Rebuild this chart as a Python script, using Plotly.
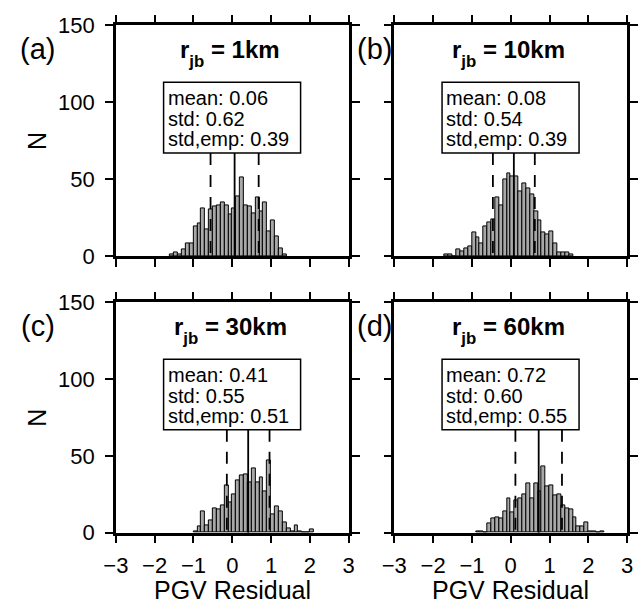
import plotly.graph_objects as go

FONT = "Liberation Sans, Arial, Helvetica, sans-serif"

# ---------------- data ----------------
panel_labels = ["(a)", "(b)", "(c)", "(d)"]
distances = ["1km", "10km", "30km", "60km"]
means = [0.06, 0.08, 0.41, 0.72]
stds = [0.62, 0.54, 0.55, 0.60]
std_emp = [0.39, 0.39, 0.51, 0.55]

bin_width = 0.1
first_centers = [-1.55, -1.65, -0.95, -0.85]

counts_a = [1, 2, 1, 4, 8, 8, 19, 21, 31, 17, 30, 32, 33, 35, 33, 27, 31, 39, 51,
            33, 32, 28, 38, 29, 35, 16, 23, 13, 5, 1]
counts_b = [1, 1, 0, 4, 3, 5, 6, 15, 12, 8, 19, 22, 24, 38, 33, 50, 54, 52, 52,
            42, 47, 44, 40, 29, 23, 15, 14, 16, 8, 2, 2, 2, 1]
counts_c = [1, 4, 14, 5, 8, 16, 15, 18, 31, 20, 25, 34, 37, 38, 33, 42, 33, 36, 27,
            47, 12, 17, 14, 7, 3, 1, 5, 1, 0, 0, 2]
counts_d = [1, 1, 0, 6, 9, 10, 9, 14, 22, 13, 21, 22, 25, 32, 22, 32, 27, 43, 30,
            31, 24, 25, 18, 16, 15, 10, 4, 4, 7, 1, 1, 0, 1]
all_counts = [counts_a, counts_b, counts_c, counts_d]

x_ticks = [-3, -2, -1, 0, 1, 2, 3]
y_ticks = [0, 50, 100, 150]
x_title = "PGV Residual"
y_title = "N"

# ---------------- layout geometry (pixels of 639x616 page) ----------------
W, H = 639, 616
x_px = [(106, 346), (393, 633), (106, 346), (393, 633)]
y_px = [(14, 254.3), (14, 254.3), (302.7, 542.7), (302.7, 542.7)]

box_x = (-1.77, 1.76)
box_y = (67, 113)
line_ys = [102.5, 89.2, 75.9]

fig = go.Figure()
shapes = []
annotations = []

for i in range(4):
    n = i + 1
    xr = "x" if n == 1 else f"x{n}"
    yr = "y" if n == 1 else f"y{n}"
    counts = all_counts[i]
    centers = [round(first_centers[i] + bin_width * k, 3) for k in range(len(counts))]
    fig.add_trace(go.Bar(
        x=centers, y=counts, width=bin_width,
        marker=dict(color="#a8a8a8", line=dict(color="black", width=1)),
        xaxis=xr, yaxis=yr, showlegend=False, hoverinfo="skip",
    ))

    bottom = i >= 2
    left = i % 2 == 0
    axis_common = dict(
        ticks="outside", ticklen=8, tickwidth=2, tickcolor="black",
        showline=True, linewidth=2.6, linecolor="black", mirror="allticks",
        showgrid=False, zeroline=False,
        tickfont=dict(family=FONT, size=22, color="black"),
    )
    fig.update_layout(**{
        ("xaxis" if n == 1 else f"xaxis{n}"): dict(
            axis_common,
            domain=[x_px[i][0] / W, x_px[i][1] / W],
            anchor=yr, range=[-3, 3], tickvals=x_ticks,
            showticklabels=bottom, ticklabelstandoff=3,
        ),
        ("yaxis" if n == 1 else f"yaxis{n}"): dict(
            axis_common,
            domain=[1 - y_px[i][1] / H, 1 - y_px[i][0] / H],
            anchor=xr, range=[0, 150], tickvals=y_ticks,
            showticklabels=left, ticklabelstandoff=6,
        ),
    })

    m, s = means[i], stds[i]
    # mean and +/- std lines
    shapes.append(dict(type="line", xref=xr, yref=yr, x0=m, x1=m, y0=box_y[0], y1=0,
                       line=dict(color="black", width=1.8), layer="above"))
    for xv in (m - s, m + s):
        shapes.append(dict(type="line", xref=xr, yref=yr, x0=xv, x1=xv, y0=box_y[0], y1=0,
                           line=dict(color="black", width=1.8, dash="12px,10px"),
                           layer="above"))
    # stats box
    shapes.append(dict(type="rect", xref=xr, yref=yr, x0=box_x[0], x1=box_x[1],
                       y0=box_y[0], y1=box_y[1], fillcolor="white",
                       line=dict(color="black", width=1.5), layer="above"))
    texts = [f"mean: {means[i]:.2f}", f"std: {stds[i]:.2f}", f"std,emp: {std_emp[i]:.2f}"]
    for t, yy in zip(texts, line_ys):
        annotations.append(dict(text=t, xref=xr, yref=yr, x=-1.72, y=yy,
                                xanchor="left", yanchor="middle", showarrow=False,
                                font=dict(family=FONT, size=20, color="black")))
    # panel title
    annotations.append(dict(
        text=f'<b>r<sub style="baseline-shift:-4px">jb</sub> = {distances[i]}</b>',
        xref=xr, yref=yr, x=-0.05, y=132, xanchor="center", yanchor="middle",
        showarrow=False, font=dict(family=FONT, size=24, color="black")))
    # panel letter
    lx = 45 if left else 393
    ly = y_px[i][0] + 25
    annotations.append(dict(text=panel_labels[i], xref="paper", yref="paper",
                            x=lx / W, y=1 - ly / H, xanchor="right", yanchor="middle",
                            showarrow=False, font=dict(family=FONT, size=29, color="black")))
    if left:
        annotations.append(dict(text=y_title, xref="paper", yref="paper",
                                x=24 / W, y=1 - (y_px[i][0] + y_px[i][1]) / 2 / H,
                                xanchor="center", yanchor="middle", textangle=-90,
                                showarrow=False, font=dict(family=FONT, size=25, color="black")))
    if bottom:
        annotations.append(dict(text=x_title, xref="paper", yref="paper",
                                x=(x_px[i][0] + x_px[i][1]) / 2 / W, y=1 - 602 / H,
                                xanchor="center", yanchor="middle",
                                showarrow=False, font=dict(family=FONT, size=25, color="black")))

fig.update_layout(
    width=W, height=H,
    margin=dict(l=0, r=0, t=0, b=0),
    paper_bgcolor="white", plot_bgcolor="white",
    bargap=0, shapes=shapes, annotations=annotations,
    font=dict(family=FONT, color="black"),
)

fig.write_html("out.html", config={"displayModeBar": False})
